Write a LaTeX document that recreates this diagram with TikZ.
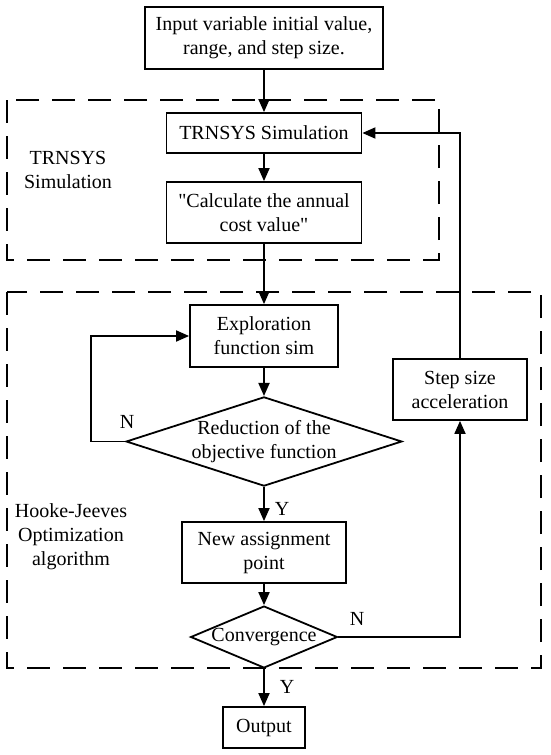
\documentclass[tikz,border=0pt]{standalone}
\usepackage{fontspec}
\setmainfont{Liberation Serif}[Ligatures=TeXOff]
\usetikzlibrary{arrows.meta}
\usetikzlibrary{shapes.geometric}
\tikzset{
  block/.style={draw, line width=1.8pt, align=center, inner sep=0pt,
    font=\fontsize{20}{24}\selectfont},
  decision/.style={draw, diamond, line width=1.8pt, align=center, inner sep=0pt,
    font=\fontsize{20}{24}\selectfont},
  frame/.style={draw, line width=1.6pt, dash pattern=on 23pt off 13pt},
  flow/.style={line width=1.8pt, -{Triangle[length=13pt,width=11pt]}},
  lbl/.style={align=center, inner sep=0pt, font=\fontsize{20}{24}\selectfont}
}

\begin{document}
\begin{tikzpicture}[x=1pt, y=-1pt]
      \useasboundingbox (0,0) rectangle (550,755);

      \draw[frame] (7,100) rectangle (439,260);
      \draw[frame] (7,292) rectangle (541,668);
      \node (simlabel) at (68,170) [lbl] {TRNSYS\\Simulation};
      \node (hjlabel) at (71,537) [lbl] {Hooke-Jeeves\\Optimization\\algorithm};

      \node (input) at (264,38) [block, minimum width=238pt, minimum height=62pt] {Input variable initial value,\\range, and step size.};
      \node (sim) at (264,133) [block, minimum width=195pt, minimum height=40pt] {TRNSYS Simulation};
      \node (cost) at (264,212.5) [block, minimum width=195pt, minimum height=61pt] {"Calculate the annual\\cost value"};
      \node (explore) at (264,336) [block, minimum width=148pt, minimum height=62pt] {Exploration\\function sim};
      \node (reduce) at (264,441.5) [decision, aspect=3.09] {Reduction of the\\objective function};
      \node (newpt) at (264,552.5) [block, minimum width=164pt, minimum height=61pt] {New assignment\\point};
      \node (conv) at (264,637) [decision, aspect=2.37] {Convergence};
      \node (output) at (264,727.5) [block, minimum width=82pt, minimum height=41pt] {Output};
      \node (stepacc) at (460,389.5) [block, minimum width=134pt, minimum height=61pt] {Step size\\acceleration};

      \draw[flow] (input) -- (sim);
      \draw[flow] (sim) -- (cost);
      \draw[flow] (cost) -- (explore);
      \draw[flow] (explore) -- (reduce);
      \draw[flow] (reduce) -- (newpt);
      \draw[flow] (newpt) -- (conv);
      \draw[flow] (conv) -- (output);
      \draw[flow] (reduce.west) -- ++(-34,0) |- (explore.west);
      \draw[flow] (conv.east) -| (stepacc.south);
      \draw[flow] (stepacc.north) |- (sim.east);

      \node (nloop) at (127,421.5) [lbl] {N};
      \node (ynew) at (282,509) [lbl] {Y};
      \node (nstep) at (357,619) [lbl] {N};
      \node (yout) at (287,687) [lbl] {Y};
    \end{tikzpicture}
\end{document}
